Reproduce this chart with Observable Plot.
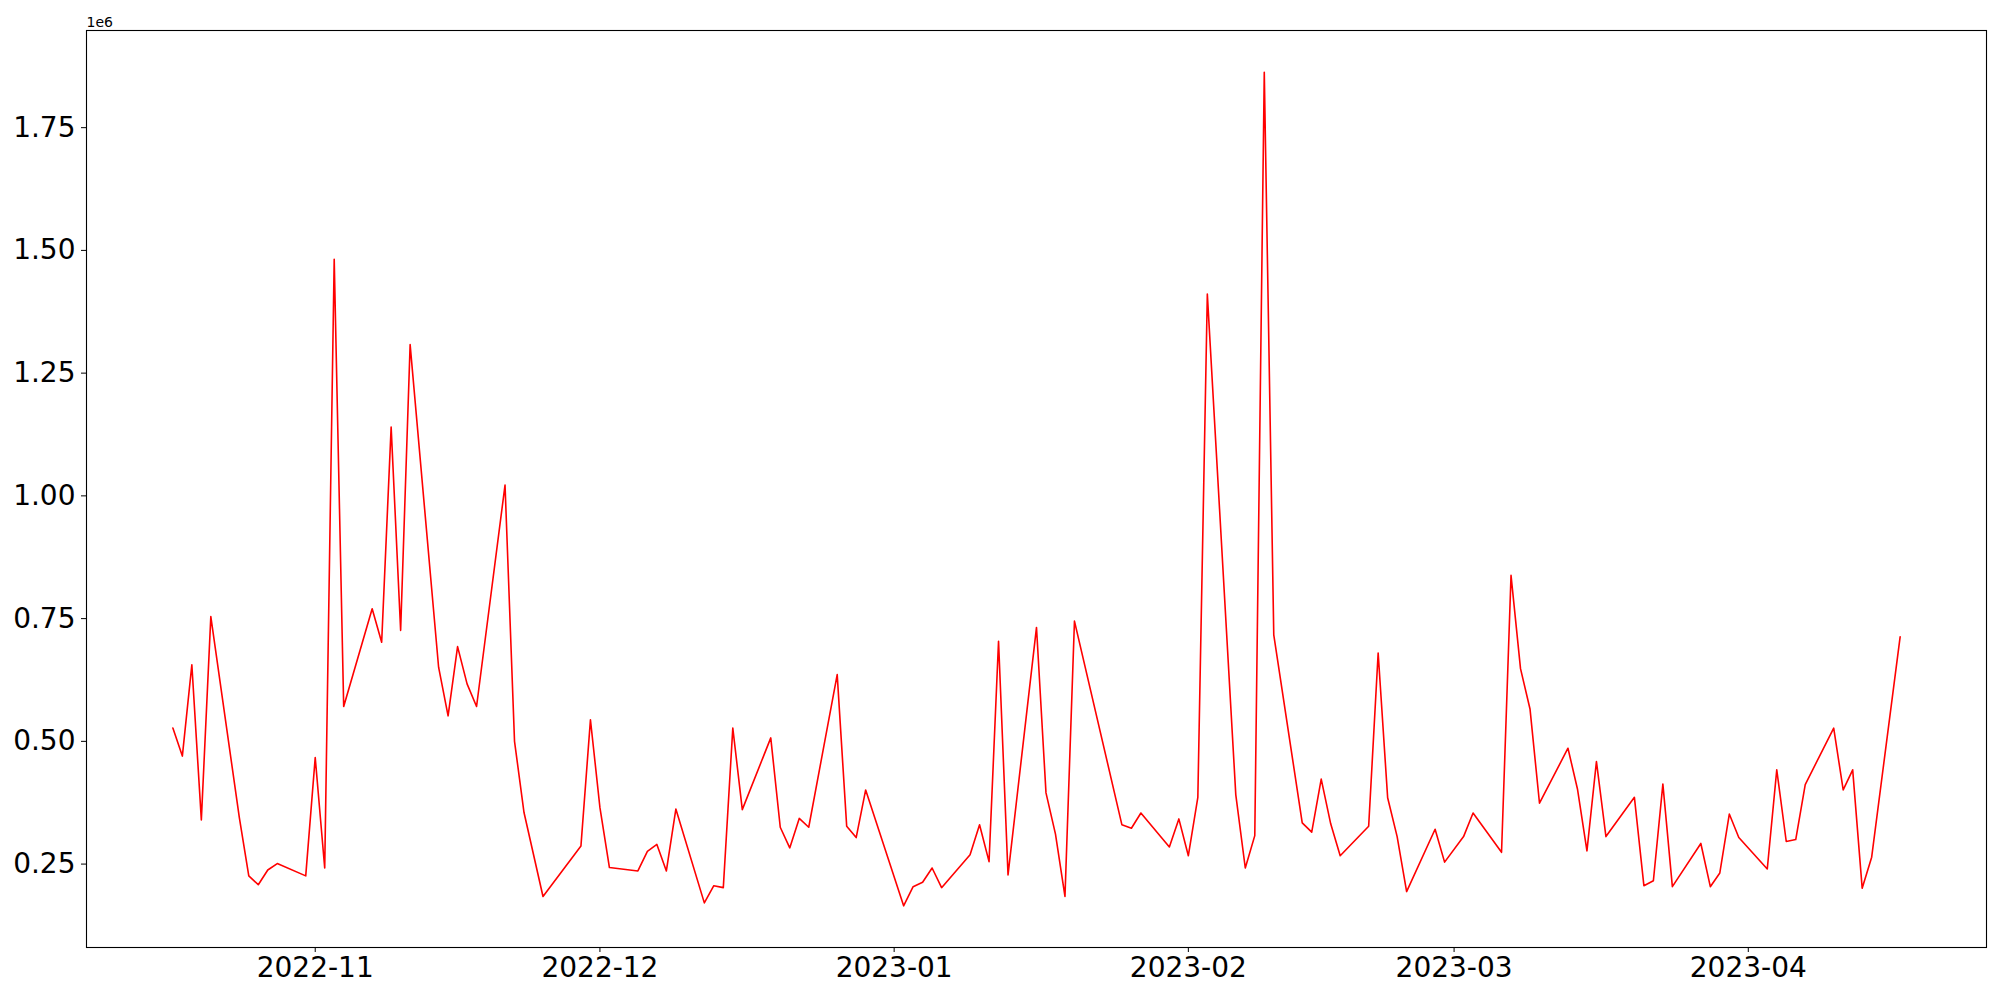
<!DOCTYPE html>
<html>
<head>
<meta charset="utf-8">
<script src="https://cdn.jsdelivr.net/npm/d3@7"></script>
<script src="https://cdn.jsdelivr.net/npm/@observablehq/plot@0.6"></script>
<style>
  html, body { margin: 0; padding: 0; background: white; }
  #chart { width: 2000px; height: 1000px; }
</style>
</head>
<body>
<div id="chart"></div>
<script>
const dates = [
  "2022-10-17","2022-10-18","2022-10-19","2022-10-20","2022-10-21","2022-10-24","2022-10-25","2022-10-26","2022-10-27","2022-10-28",
  "2022-10-31","2022-11-01","2022-11-02","2022-11-03","2022-11-04","2022-11-07","2022-11-08","2022-11-09","2022-11-10","2022-11-11",
  "2022-11-14","2022-11-15","2022-11-16","2022-11-17","2022-11-18","2022-11-21","2022-11-22","2022-11-23","2022-11-25","2022-11-29",
  "2022-11-30","2022-12-01","2022-12-02","2022-12-05","2022-12-06","2022-12-07","2022-12-08","2022-12-09","2022-12-12","2022-12-13",
  "2022-12-14","2022-12-15","2022-12-16","2022-12-19","2022-12-20","2022-12-21","2022-12-22","2022-12-23","2022-12-26","2022-12-27",
  "2022-12-28","2022-12-29","2023-01-02","2023-01-03","2023-01-04","2023-01-05","2023-01-06","2023-01-09","2023-01-10","2023-01-11",
  "2023-01-12","2023-01-13","2023-01-16","2023-01-17","2023-01-18","2023-01-19","2023-01-20","2023-01-25","2023-01-26","2023-01-27",
  "2023-01-30","2023-01-31","2023-02-01","2023-02-02","2023-02-03","2023-02-06","2023-02-07","2023-02-08","2023-02-09","2023-02-10",
  "2023-02-13","2023-02-14","2023-02-15","2023-02-16","2023-02-17","2023-02-20","2023-02-21","2023-02-22","2023-02-23","2023-02-24",
  "2023-02-27","2023-02-28","2023-03-02","2023-03-03","2023-03-06","2023-03-07","2023-03-08","2023-03-09","2023-03-10","2023-03-13",
  "2023-03-14","2023-03-15","2023-03-16","2023-03-17","2023-03-20","2023-03-21","2023-03-22","2023-03-23","2023-03-24","2023-03-27",
  "2023-03-28","2023-03-29","2023-03-30","2023-03-31","2023-04-03","2023-04-04","2023-04-05","2023-04-06","2023-04-07","2023-04-10",
  "2023-04-11","2023-04-12","2023-04-13","2023-04-14","2023-04-17"
];
const values = [
  527000, 470000, 656000, 340000, 754000, 345000, 226000, 208000, 238000, 251000,
  226000, 467000, 242000, 1482000, 571000, 770000, 702000, 1140000, 726000, 1308000,
  651000, 552000, 693000, 617000, 571000, 1022000, 500000, 355000, 184000, 287000,
  544000, 365000, 243000, 236000, 276000, 290000, 236000, 362000, 171000, 206000,
  202000, 527000, 361000, 507000, 325000, 283000, 343000, 325000, 636000, 327000,
  304000, 401000, 165000, 204000, 213000, 242000, 202000, 269000, 330000, 255000,
  704000, 228000, 732000, 395000, 311000, 184000, 745000, 330000, 323000, 354000,
  285000, 342000, 267000, 386000, 1411000, 391000, 242000, 308000, 1863000, 717000,
  334000, 315000, 423000, 332000, 267000, 327000, 680000, 385000, 306000, 194000,
  321000, 254000, 306000, 354000, 274000, 838000, 648000, 566000, 374000, 486000,
  403000, 277000, 459000, 306000, 386000, 206000, 216000, 413000, 204000, 292000,
  204000, 232000, 352000, 304000, 240000, 442000, 296000, 300000, 412000, 527000,
  401000, 442000, 201000, 264000, 713000
];
const yTicks = [250000, 500000, 750000, 1000000, 1250000, 1500000, 1750000];
const xTickLabels = ["2022-11", "2022-12", "2023-01", "2023-02", "2023-03", "2023-04"];
const offsetLabel = "1e6";

const data = dates.map((d, i) => ({date: new Date(d + "T00:00:00Z"), value: values[i]}));

// matplotlib-like 5% margins
const xExt = d3.extent(data, d => +d.date);
const xPad = (xExt[1] - xExt[0]) * 0.05;
const yExt = d3.extent(values);
const yPad = (yExt[1] - yExt[0]) * 0.05;
const xTicks = xTickLabels.map(s => new Date(s + "-01T00:00:00Z"));

const chart = Plot.plot({
  width: 2000,
  height: 1000,
  marginLeft: 86,
  marginRight: 14,
  marginTop: 30,
  marginBottom: 53,
  style: {fontFamily: "DejaVu Sans", fontSize: "28px", background: "white", color: "black", overflow: "visible"},
  x: {type: "utc", domain: [new Date(xExt[0] - xPad), new Date(xExt[1] + xPad)]},
  y: {domain: [yExt[0] - yPad, yExt[1] + yPad]},
  marks: [
    Plot.axisX({ticks: xTicks, tickFormat: d3.utcFormat("%Y-%m"), tickSize: 5, tickPadding: 5, label: null, fontSize: 28}),
    Plot.axisY({ticks: yTicks, tickFormat: d => (d / 1e6).toFixed(2), tickSize: 5, tickPadding: 6, label: null, fontSize: 28}),
    Plot.line(data, {x: "date", y: "value", stroke: "red", strokeWidth: 1.6}),
    Plot.frame({stroke: "black", strokeWidth: 1.1}),
    Plot.text([offsetLabel], {frameAnchor: "top-left", text: d => d, textAnchor: "start", lineAnchor: "bottom", dy: -4, fontSize: 14})
  ]
});
document.getElementById("chart").appendChild(chart);
</script>
</body>
</html>
